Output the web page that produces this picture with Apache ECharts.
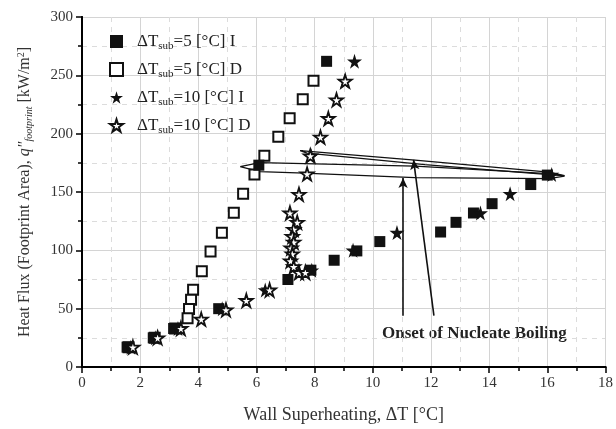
<!DOCTYPE html>
<html lang="en">
<head>
    <meta charset="UTF-8">
    <script src="https://cdn.jsdelivr.net/npm/echarts@6/dist/echarts.min.js"></script>
</head>
<body style="margin:0">
    <div id="main" style="height: 429px;width: 616px;"></div>
    <script>
        // [dT, q]
        var sub5I = [[1.55,17],[2.45,25],[3.15,33],[4.7,50],[7.08,75],[7.87,83],[8.67,91.5],[9.45,99.5],
            [10.24,107.5],[12.33,115.7],[12.86,124],[13.46,132],[14.1,140],[15.43,156.4],[16.0,164.5],
            [6.08,173],[8.41,262]]
        var sub5D = [[7.96,245.4],[7.59,229.5],[7.14,213.3],[6.75,197.3],[6.27,181],[5.93,165],[5.54,148.5],
            [5.22,132.2],[4.81,115],[4.42,99],[4.12,82],[3.82,66.3],[3.75,57.7],[3.68,49.8],[3.63,41.8],
            [3.2,33],[2.5,25],[1.6,17]]
        var sub10I = [[1.68,17],[2.52,25],[3.3,33],[4.82,50],[6.3,66],[7.9,83],[9.32,100],[10.83,115.2],
            [13.7,132],[14.72,148.5],[16.15,165],[7.88,181],[8.2,197],[9.03,245],[9.37,262]]
        var sub10D = [[9.05,245],[8.75,229],[8.47,213],[8.2,197],[7.85,181],[7.74,165.5],[7.46,148],
            [7.15,132],[7.4,124],[7.28,118],[7.23,112],[7.28,107],[7.19,102],[7.23,97],[7.17,91],
            [7.28,86],[7.46,81],[7.68,81],[6.45,66],[5.65,57],[4.95,49],[4.1,41],[3.4,33],[2.6,25],[1.75,17]]

        // hand drawn loops and arrows of the annotation
        var loopA = [[5.44,171.8],[6.11,175.2],[11.45,172.2],[16.05,165.8],[16.59,163.7],[16.05,161.5],
            [11.45,162.4],[7.4,166.4],[6.11,167.5],[5.44,171.8]]
        var loopB = [[7.5,185.4],[11.45,177.3],[16.05,167.1],[16.59,164.1],[16.05,164.9],[11.79,173.5],
            [7.74,183.3],[7.5,185.4]]
        var arrow1 = [[11.04,44],[11.04,162]]
        var arrow2 = [[12.1,44],[11.4,177.6]]

        var xTicks = [0, 18, 2]
        var yTicks = [0, 300, 50]

        var star = 'path://M50,0 L61,35 L98,35 L68,57 L79,91 L50,70 L21,91 L32,57 L2,35 L39,35 Z'
        var serif = 'Liberation Serif'

        var legendText = {
            '5I': '{a|ΔT}{s|sub}{d|=5 [°C] I}',
            '5D': '{a|ΔT}{s|sub}{d|=5 [°C] D}',
            '10I': '{a|ΔT}{s|sub}{d|=10 [°C] I}',
            '10D': '{a|ΔT}{s|sub}{d|=10 [°C] D}'
        }

        function mainAxis(pos, t) {
            return {
                type: 'value', position: pos, min: t[0], max: t[1], interval: t[2],
                axisLine: { lineStyle: { color: '#000', width: 2 } },
                axisTick: { length: 6, lineStyle: { color: '#000', width: 1.5 } },
                minorTick: { show: true, splitNumber: 2, length: 4, lineStyle: { color: '#000', width: 1.5 } },
                axisLabel: { color: '#333', fontFamily: serif, fontSize: 15, margin: 9 },
                splitLine: { lineStyle: { color: '#d4d4d4', width: 1 } },
                minorSplitLine: { show: true, lineStyle: { color: '#dcdcdc', type: [5, 5] } }
            }
        }
        function mirrorAxis(pos, t) {
            return {
                type: 'value', position: pos, min: t[0], max: t[1], interval: t[2],
                axisLine: { show: true, lineStyle: { color: '#000', width: 2 } },
                axisTick: { show: true, inside: true, length: 6, lineStyle: { color: '#000', width: 1.5 } },
                minorTick: { show: true, splitNumber: 2, length: 0 },
                axisLabel: { show: false },
                splitLine: { show: false }
            }
        }

        var xMain = mainAxis('bottom', xTicks)
        xMain.name = 'Wall Superheating, ΔT [°C]'
        xMain.nameLocation = 'middle'
        xMain.nameGap = 39
        xMain.nameTextStyle = { color: '#333', fontFamily: serif, fontSize: 18 }

        var yMain = mainAxis('left', yTicks)
        yMain.name = 'Heat Flux (Footprint Area), {i|q"}{s|footprint} [kW/m{p|2}]'
        yMain.nameLocation = 'middle'
        yMain.nameGap = 48
        yMain.nameTextStyle = {
            color: '#333', fontFamily: serif, fontSize: 16,
            rich: {
                i: { fontFamily: serif, fontStyle: 'italic', fontSize: 16, color: '#333' },
                s: { fontFamily: serif, fontStyle: 'italic', fontSize: 10, color: '#333', padding: [8, 0, 0, 0] },
                p: { fontFamily: serif, fontSize: 10, color: '#333', padding: [0, 0, 8, 0] }
            }
        }

        var lineStyle = { color: '#111', width: 1.3 }

        var myCharts = echarts.init(document.getElementById('main'))
        var option = {
            animation: false,
            backgroundColor: '#fff',
            grid: { left: 82, right: 2, top: 17, bottom: 61 },
            xAxis: [xMain, mirrorAxis('top', xTicks)],
            yAxis: [yMain, mirrorAxis('right', yTicks)],
            legend: {
                orient: 'vertical', left: 104, top: 28, itemGap: 9,
                itemWidth: 13, itemHeight: 13,
                data: ['5I', '5D', '10I', '10D'],
                formatter: function (n) { return legendText[n] },
                textStyle: {
                    rich: {
                        a: { fontFamily: serif, fontSize: 17, color: '#222', padding: [0, 0, 0, 9] },
                        d: { fontFamily: serif, fontSize: 17, color: '#222' },
                        s: { fontFamily: serif, fontSize: 11, color: '#222', padding: [10, 0, 0, 0] }
                    }
                }
            },
            series: [
                {
                    name: '5D', type: 'scatter', data: sub5D, symbol: 'rect', symbolSize: 10,
                    itemStyle: { color: '#fff', borderColor: '#111', borderWidth: 2, opacity: 1 }
                },
                {
                    name: '5I', type: 'scatter', data: sub5I, symbol: 'rect', symbolSize: 11,
                    itemStyle: { color: '#111', opacity: 1 }
                },
                {
                    name: '10I', type: 'scatter', data: sub10I, symbol: star, symbolSize: 15,
                    itemStyle: { color: '#111', opacity: 1 }
                },
                {
                    name: '10D', type: 'scatter', data: sub10D, symbol: star, symbolSize: 13,
                    itemStyle: { color: '#fff', borderColor: '#111', borderWidth: 1.8, opacity: 1 }
                },
                {
                    type: 'line', data: loopA, symbol: 'none', lineStyle: lineStyle, z: 1, silent: true
                },
                {
                    type: 'line', data: loopB, symbol: 'none', lineStyle: lineStyle, z: 1, silent: true,
                    markLine: {
                        silent: true, symbol: ['none', 'arrow'], symbolSize: [7, 10],
                        lineStyle: { color: '#111', width: 1.6, type: 'solid' },
                        label: { show: false },
                        data: [
                            [{ coord: arrow1[0] }, { coord: arrow1[1] }],
                            [{ coord: arrow2[0] }, { coord: arrow2[1] }]
                        ]
                    }
                }
            ],
            graphic: [{
                type: 'text', left: 382, top: 325,
                style: { text: 'Onset of Nucleate Boiling', fontFamily: serif, fontWeight: 'bold', fontSize: 17, fill: '#222' }
            }]
        }
        myCharts.setOption(option)
    </script>
</body>
</html>
